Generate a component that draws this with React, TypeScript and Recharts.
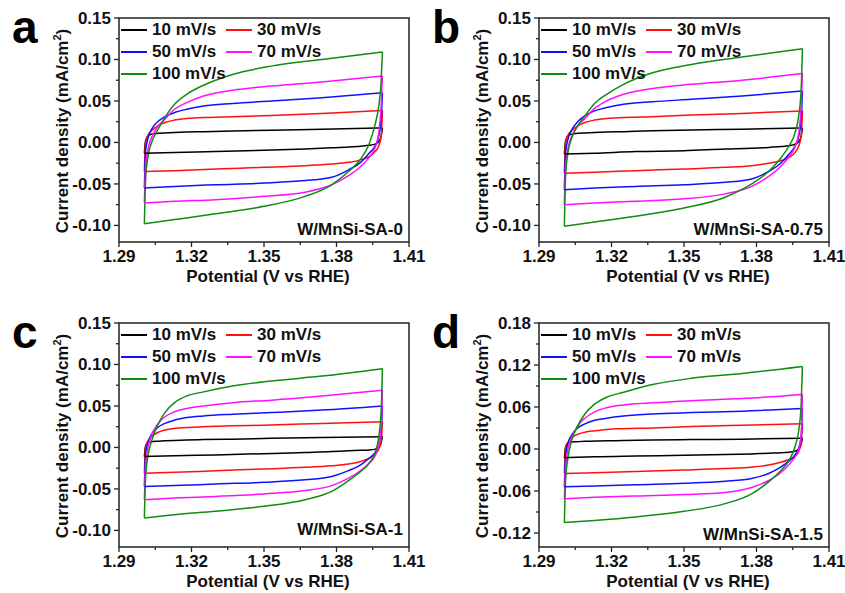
import { LineChart, Line, XAxis, YAxis, ReferenceArea, Legend } from 'recharts';

const FONT = '"Liberation Sans", Arial, Helvetica, sans-serif';

const seriesNames = ['10 mV/s', '30 mV/s', '50 mV/s', '70 mV/s', '100 mV/s'];
const seriesColors = ['#000000', '#ff1010', '#1010ff', '#ff10ff', '#108c10'];

// potential grid (V vs RHE): anodic sweep, then cathodic sweep
const fwdV = [1.3005, 1.301, 1.302, 1.3035, 1.306, 1.309, 1.313, 1.318, 1.325, 1.337, 1.353, 1.374, 1.399];
const revV = [1.399, 1.3985, 1.3975, 1.396, 1.3935, 1.39, 1.385, 1.378, 1.367, 1.35, 1.33, 1.313, 1.3005];

const xMajor = [1.29, 1.32, 1.35, 1.38, 1.41];
const xMinor = [1.305, 1.335, 1.365, 1.395];
const yMajor = [-0.1, -0.05, 0, 0.05, 0.1, 0.15];
const yMinor = [-0.075, -0.025, 0.025, 0.075, 0.125];
const yMajorD = [-0.12, -0.06, 0, 0.06, 0.12, 0.18];
const yMinorD = [-0.09, -0.03, 0.03, 0.09, 0.15];

// current density (mA/cm2), one row per scan rate
const aUp = [
  [-0.013, 0.002, 0.008, 0.01, 0.011, 0.0115, 0.012, 0.0125, 0.013, 0.0138, 0.0148, 0.016, 0.0175],
  [-0.035, 0.0, 0.009, 0.014, 0.02, 0.024, 0.027, 0.029, 0.03, 0.031, 0.0325, 0.035, 0.0386],
  [-0.055, -0.01, 0.005, 0.016, 0.025, 0.031, 0.036, 0.04, 0.044, 0.047, 0.05, 0.054, 0.06],
  [-0.073, -0.03, -0.008, 0.006, 0.019, 0.028, 0.04, 0.048, 0.056, 0.063, 0.068, 0.073, 0.08],
  [-0.098, -0.045, -0.017, 0.0, 0.015, 0.03, 0.046, 0.058, 0.069, 0.082, 0.092, 0.1, 0.109],
];
const aDown = [
  [0.0175, 0.008, 0.001, -0.002, -0.0035, -0.0045, -0.0055, -0.0065, -0.0078, -0.0095, -0.011, -0.012, -0.013],
  [0.0386, 0.008, -0.004, -0.011, -0.017, -0.021, -0.024, -0.026, -0.028, -0.03, -0.032, -0.034, -0.035],
  [0.06, 0.028, 0.008, -0.004, -0.013, -0.024, -0.033, -0.042, -0.046, -0.049, -0.051, -0.053, -0.055],
  [0.08, 0.045, 0.012, -0.006, -0.018, -0.029, -0.04, -0.051, -0.06, -0.065, -0.069, -0.071, -0.073],
  [0.109, 0.075, 0.044, 0.022, -0.002, -0.02, -0.035, -0.051, -0.065, -0.077, -0.086, -0.093, -0.098],
];

const bUp = [
  [-0.014, 0.002, 0.008, 0.01, 0.011, 0.0115, 0.012, 0.0125, 0.013, 0.014, 0.015, 0.016, 0.0175],
  [-0.037, -0.001, 0.009, 0.014, 0.02, 0.024, 0.027, 0.029, 0.03, 0.031, 0.033, 0.035, 0.038],
  [-0.057, -0.012, 0.004, 0.015, 0.025, 0.032, 0.038, 0.042, 0.046, 0.049, 0.052, 0.056, 0.062],
  [-0.075, -0.03, -0.007, 0.007, 0.02, 0.029, 0.041, 0.05, 0.058, 0.065, 0.07, 0.075, 0.083],
  [-0.101, -0.04, -0.012, 0.005, 0.02, 0.032, 0.047, 0.058, 0.07, 0.084, 0.094, 0.103, 0.113],
];
const bDown = [
  [0.0175, 0.008, 0.001, -0.002, -0.004, -0.005, -0.006, -0.007, -0.008, -0.01, -0.011, -0.013, -0.014],
  [0.038, 0.008, -0.004, -0.012, -0.018, -0.022, -0.025, -0.028, -0.03, -0.032, -0.034, -0.036, -0.037],
  [0.062, 0.028, 0.008, -0.004, -0.014, -0.025, -0.035, -0.044, -0.048, -0.051, -0.053, -0.055, -0.057],
  [0.083, 0.045, 0.012, -0.005, -0.017, -0.029, -0.041, -0.053, -0.062, -0.068, -0.071, -0.073, -0.075],
  [0.113, 0.065, 0.033, 0.012, -0.004, -0.019, -0.035, -0.05, -0.066, -0.079, -0.089, -0.096, -0.101],
];

const cUp = [
  [-0.011, 0.002, 0.006, 0.007, 0.0075, 0.008, 0.0085, 0.009, 0.0095, 0.01, 0.011, 0.012, 0.013],
  [-0.031, 0.0, 0.008, 0.013, 0.018, 0.021, 0.023, 0.024, 0.025, 0.026, 0.027, 0.029, 0.031],
  [-0.047, -0.008, 0.006, 0.016, 0.024, 0.029, 0.033, 0.036, 0.038, 0.04, 0.042, 0.045, 0.05],
  [-0.063, -0.022, 0.0, 0.015, 0.028, 0.037, 0.043, 0.047, 0.05, 0.054, 0.057, 0.062, 0.069],
  [-0.085, -0.035, -0.01, 0.008, 0.027, 0.042, 0.054, 0.062, 0.067, 0.074, 0.08, 0.086, 0.095],
];
const cDown = [
  [0.013, 0.006, 0.0, -0.002, -0.003, -0.0035, -0.004, -0.005, -0.006, -0.0075, -0.009, -0.01, -0.011],
  [0.031, 0.008, -0.002, -0.008, -0.013, -0.017, -0.02, -0.022, -0.024, -0.026, -0.028, -0.03, -0.031],
  [0.05, 0.02, 0.004, -0.006, -0.013, -0.021, -0.028, -0.035, -0.039, -0.042, -0.044, -0.046, -0.047],
  [0.069, 0.025, 0.003, -0.01, -0.019, -0.028, -0.037, -0.046, -0.052, -0.056, -0.059, -0.061, -0.063],
  [0.095, 0.046, 0.013, -0.006, -0.019, -0.029, -0.04, -0.053, -0.063, -0.071, -0.077, -0.081, -0.085],
];

const dUp = [
  [-0.0125, 0.003, 0.009, 0.01, 0.0105, 0.011, 0.0113, 0.0117, 0.012, 0.013, 0.0135, 0.014, 0.0155],
  [-0.035, 0.0, 0.01, 0.016, 0.021, 0.024, 0.026, 0.028, 0.029, 0.03, 0.032, 0.034, 0.036],
  [-0.054, -0.01, 0.008, 0.02, 0.03, 0.036, 0.041, 0.044, 0.047, 0.05, 0.052, 0.054, 0.058],
  [-0.071, -0.028, 0.0, 0.016, 0.033, 0.044, 0.053, 0.059, 0.063, 0.066, 0.069, 0.072, 0.078],
  [-0.105, -0.045, -0.012, 0.012, 0.033, 0.05, 0.064, 0.074, 0.081, 0.092, 0.101, 0.108, 0.118],
];
const dDown = [
  [0.0155, 0.007, 0.0, -0.003, -0.0045, -0.0055, -0.006, -0.007, -0.008, -0.009, -0.01, -0.011, -0.0125],
  [0.036, 0.008, -0.003, -0.01, -0.015, -0.019, -0.023, -0.026, -0.028, -0.03, -0.032, -0.034, -0.035],
  [0.058, 0.018, 0.002, -0.008, -0.017, -0.026, -0.035, -0.042, -0.046, -0.049, -0.051, -0.053, -0.054],
  [0.078, 0.02, 0.0, -0.011, -0.022, -0.034, -0.045, -0.055, -0.062, -0.065, -0.067, -0.069, -0.071],
  [0.118, 0.065, 0.027, 0.004, -0.016, -0.031, -0.047, -0.064, -0.078, -0.089, -0.097, -0.102, -0.105],
];

const sweep = (grid: number[], vals: number[]) => grid.map((v, i) => ({ v, j: vals[i] }));

const txt = { fontFamily: FONT, fontWeight: 700, fontSize: 17, fill: '#111' };

const XTick = (props: any) => {
  const { x, y, payload } = props;
  const major = xMajor.includes(payload.value);
  return (
    <g>
      <line x1={x} y1={y} x2={x} y2={y + (major ? 5 : 3)} stroke="#222" strokeWidth={1.3} />
      {major && (
        <text x={x} y={y + 20} textAnchor="middle" {...txt}>
          {payload.value.toFixed(2)}
        </text>
      )}
    </g>
  );
};

const makeYTick = (majors: number[]) => (props: any) => {
  const { x, y, payload } = props;
  const major = majors.includes(payload.value);
  return (
    <g>
      <line x1={x - (major ? 5 : 3)} y1={y} x2={x} y2={y} stroke="#222" strokeWidth={1.3} />
      {major && (
        <text x={x - 8} y={y + 6} textAnchor="end" {...txt}>
          {payload.value.toFixed(2)}
        </text>
      )}
    </g>
  );
};

const LegendBox = () => (
  <div
    style={{
      display: 'grid',
      gridTemplateColumns: '105px auto',
      fontFamily: FONT,
      fontWeight: 700,
      fontSize: 17,
      color: '#111',
      whiteSpace: 'nowrap',
    }}
  >
    {seriesNames.map((n, i) => (
      <div key={n} style={{ display: 'flex', alignItems: 'center', height: 22 }}>
        <span style={{ display: 'inline-block', width: 26, height: 2, background: seriesColors[i], marginRight: 5 }} />
        <span>{n}</span>
      </div>
    ))}
  </div>
);

type PanelProps = {
  letter: string;
  sample: string;
  up: number[][];
  down: number[][];
  yDomain: [number, number];
  yMaj: number[];
  yMin: number[];
  sampleY: number;
};

function Panel({ letter, sample, up, down, yDomain, yMaj, yMin, sampleY }: PanelProps) {
  const xTicks = [...xMajor, ...xMinor].sort((p, q) => p - q);
  const yTicks = [...yMaj, ...yMin].sort((p, q) => p - q);
  return (
    <LineChart width={440} height={292} margin={{ top: 18, right: 31, bottom: 8, left: 8 }}>
      <XAxis
        type="number"
        dataKey="v"
        domain={[1.29, 1.41]}
        ticks={xTicks}
        interval={0}
        tickSize={0}
        tickMargin={0}
        tickLine={false}
        axisLine={false}
        allowDataOverflow
        height={42}
        tick={XTick}
        label={() => (
          <g>
            <text x={268} y={282} textAnchor="middle" {...txt}>
              Potential (V vs RHE)
            </text>
            <text x={403} y={sampleY} textAnchor="end" {...txt}>
              {sample}
            </text>
          </g>
        )}
      />
      <YAxis
        type="number"
        domain={yDomain}
        ticks={yTicks}
        interval={0}
        tickSize={0}
        tickMargin={0}
        tickLine={false}
        axisLine={false}
        allowDataOverflow
        width={111}
        tick={makeYTick(yMaj)}
        label={() => (
          <g>
            <text x={68} y={131} transform="rotate(-90, 68, 131)" textAnchor="middle" {...txt}>
              Current density (mA/cm
              <tspan dy={-7} fontSize={11}>2</tspan>
              <tspan dy={7}>)</tspan>
            </text>
            <text x={12} y={43} fontFamily={FONT} fontWeight={700} fontSize={46} fill="#000">
              {letter}
            </text>
          </g>
        )}
      />
      <ReferenceArea
        x1={1.29}
        x2={1.41}
        y1={yDomain[0]}
        y2={yDomain[1]}
        fill="none"
        stroke="#222"
        strokeWidth={1.5}
        ifOverflow="visible"
      />
      {seriesNames.map((n, i) => (
        <Line
          key={n + '-up'}
          name={n}
          data={sweep(fwdV, up[i])}
          dataKey="j"
          type="monotone"
          stroke={seriesColors[i]}
          strokeWidth={1.5}
          dot={false}
          activeDot={false}
          isAnimationActive={false}
        />
      ))}
      {seriesNames.map((n, i) => (
        <Line
          key={n + '-down'}
          name={n + ' '}
          data={sweep(revV, down[i])}
          dataKey="j"
          type="monotone"
          stroke={seriesColors[i]}
          strokeWidth={1.5}
          dot={false}
          activeDot={false}
          legendType="none"
          isAnimationActive={false}
        />
      ))}
      <Legend
        layout="vertical"
        align="center"
        verticalAlign="middle"
        content={LegendBox}
        wrapperStyle={{ top: 19, left: 121 }}
      />
    </LineChart>
  );
}

export default function App() {
  return (
    <div style={{ position: 'absolute', left: 0, top: 0, width: 845, height: 593, background: '#fff', overflow: 'hidden' }}>
      <div style={{ position: 'absolute', left: 0, top: 0 }}>
        <Panel letter="a" sample="W/MnSi-SA-0" up={aUp} down={aDown} yDomain={[-0.12, 0.15]} yMaj={yMajor} yMin={yMinor} sampleY={235} />
      </div>
      <div style={{ position: 'absolute', left: 420, top: 0 }}>
        <Panel letter="b" sample="W/MnSi-SA-0.75" up={bUp} down={bDown} yDomain={[-0.12, 0.15]} yMaj={yMajor} yMin={yMinor} sampleY={235} />
      </div>
      <div style={{ position: 'absolute', left: 0, top: 305 }}>
        <Panel letter="c" sample="W/MnSi-SA-1" up={cUp} down={cDown} yDomain={[-0.12, 0.15]} yMaj={yMajor} yMin={yMinor} sampleY={230} />
      </div>
      <div style={{ position: 'absolute', left: 420, top: 305 }}>
        <Panel letter="d" sample="W/MnSi-SA-1.5" up={dUp} down={dDown} yDomain={[-0.14, 0.18]} yMaj={yMajorD} yMin={yMinorD} sampleY={235} />
      </div>
    </div>
  );
}
